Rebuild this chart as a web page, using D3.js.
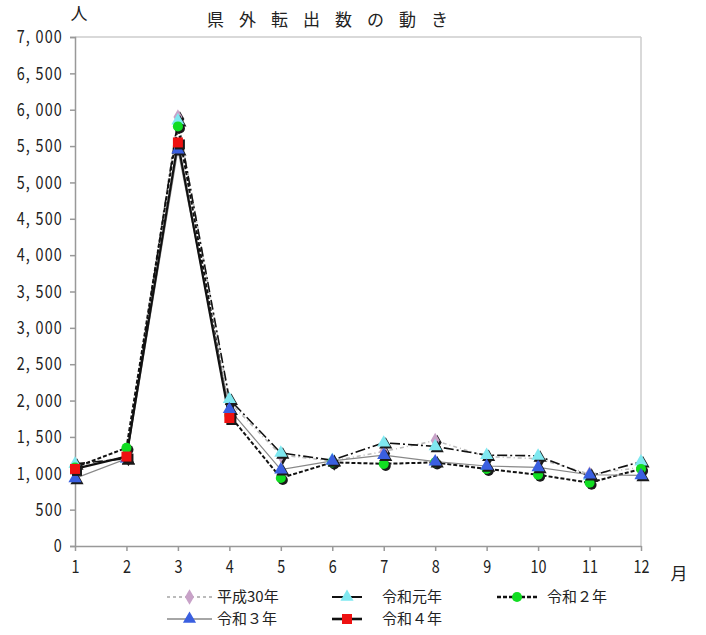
<!DOCTYPE html>
<html><head><meta charset="utf-8">
<script src="https://cdn.jsdelivr.net/npm/d3@7"></script>
<style>
body{margin:0;background:#fff;}
text{font-family:"Noto Sans CJK JP","Noto Sans",sans-serif;}
</style></head>
<body>
<svg id="c" width="706" height="635"></svg>
<script>
const months = [1,2,3,4,5,6,7,8,9,10,11,12];
const yTicks = [0,500,1000,1500,2000,2500,3000,3500,4000,4500,5000,5500,6000,6500,7000];
const seriesNames = ["平成30年","令和元年","令和２年","令和３年","令和４年"];
const h30 = [1100,1230,5900,1980,1250,1170,1300,1450,1230,1200,990,1080];
const r1  = [1130,1200,5850,2020,1280,1180,1420,1370,1250,1240,960,1160];
const r2  = [1080,1350,5770,1800,935,1150,1130,1150,1060,980,870,1060];
const r3  = [930,1200,5450,1880,1050,1170,1250,1160,1100,1080,980,970];
const r4  = [1060,1230,5550,1760];

const svg = d3.select("#c");
const x = d3.scaleLinear().domain([1,12]).range([75,641]);
const y = d3.scaleLinear().domain([0,7000]).range([546,37]);
const sx = 0.8;

// frame
svg.append("line").attr("x1",75).attr("x2",641).attr("y1",37).attr("y2",37).attr("stroke","#ccc").attr("stroke-width",1.5);
svg.append("line").attr("x1",641).attr("x2",641).attr("y1",37).attr("y2",546).attr("stroke","#ccc").attr("stroke-width",1.5);

const yAxis = d3.axisLeft(y).tickValues(yTicks).tickSize(5).tickPadding(6)
  .tickFormat(d => d===0 ? "0" : d3.format(",")(d).replace(",", ", "));
const gy = svg.append("g").attr("transform","translate(75,0)").call(yAxis);
gy.selectAll("path,line").attr("stroke","#999").attr("stroke-width",1.5);
gy.selectAll("text").attr("font-size",18).attr("fill","#222").attr("letter-spacing","1.5px")
  .attr("x",-12/sx).attr("transform",`scale(${sx},1)`);

const xAxis = d3.axisBottom(x).tickValues(months).tickSize(5).tickPadding(9).tickSizeOuter(0);
const gx = svg.append("g").attr("transform","translate(0,546)").call(xAxis);
gx.selectAll("path,line").attr("stroke","#999").attr("stroke-width",1.5);
gx.selectAll("text").attr("font-size",18).attr("fill","#222").attr("transform",`scale(${sx},1)`);

svg.append("text").attr("x",679).attr("y",580).attr("text-anchor","middle").attr("font-size",17).attr("fill","#222").text("月");
svg.append("text").attr("x",79).attr("y",20).attr("text-anchor","middle").attr("font-size",17).attr("fill","#222").text("人");
svg.append("text").attr("x",207).attr("y",26).attr("font-size",17).attr("letter-spacing","15px").attr("fill","#222").text("県外転出数の動き");

const styles = [
  {data:h30, stroke:"#bbbbbb", dash:"4,3,1,3", w:1.5, shape:d3.symbolDiamond, size:70, fill:"#c8a2c8"},
  {data:r1, stroke:"#111", dash:"10,3,2,3", w:1.6, shape:d3.symbolTriangle, size:75, fill:"#7fe8f0"},
  {data:r2, stroke:"#111", dash:"4,2", w:2, shape:d3.symbolCircle, size:80, fill:"#11dd22"},
  {data:r3, stroke:"#888", dash:null, w:1.2, shape:d3.symbolTriangle, size:75, fill:"#3a5fe0"},
  {data:r4, stroke:"#111", dash:null, w:2.2, shape:d3.symbolSquare, size:100, fill:"#ee1111"}
];

const line = d3.line().x((d,i)=>x(months[i])).y(d=>y(d));
styles.forEach(s=>{
  const p = svg.append("path").datum(s.data).attr("d",line).attr("fill","none")
    .attr("stroke",s.stroke).attr("stroke-width",s.w);
  if(s.dash) p.attr("stroke-dasharray",s.dash);
});
styles.forEach(s=>{
  const sym = d3.symbol().type(s.shape).size(s.size);
  const g = svg.append("g");
  g.selectAll(".sh").data(s.data).join("path").attr("d",sym)
    .attr("transform",(d,i)=>`translate(${x(months[i])+2},${y(d)+2})`).attr("fill","#1a1a1a");
  g.selectAll(".mk").data(s.data).join("path").attr("d",sym)
    .attr("transform",(d,i)=>`translate(${x(months[i])},${y(d)})`).attr("fill",s.fill);
});

// legend: [line start, line end, text x, y]
const legPos = [[167,212,217,597],[332,362,382,597],[497,537,547,597],[167,212,217,619],[332,362,382,619]];
const legDash = ["3,3","12,6","4,2",null,null];
const legStroke = ["#bbbbbb","#111","#111","#888","#111"];
styles.forEach((s,k)=>{
  const [x1,x2,tx,ly] = legPos[k];
  const l = svg.append("line").attr("x1",x1).attr("x2",x2).attr("y1",ly).attr("y2",ly)
    .attr("stroke",legStroke[k]).attr("stroke-width",s.w+0.4);
  if(legDash[k]) l.attr("stroke-dasharray",legDash[k]);
  svg.append("path").attr("d",d3.symbol().type(s.shape).size(s.size)())
    .attr("transform",`translate(${(x1+x2)/2},${ly})`).attr("fill",s.fill);
  svg.append("text").attr("x",tx).attr("y",ly+5).attr("font-size",15).attr("fill","#222")
    .text(seriesNames[k]);
});
</script>
</body></html>
